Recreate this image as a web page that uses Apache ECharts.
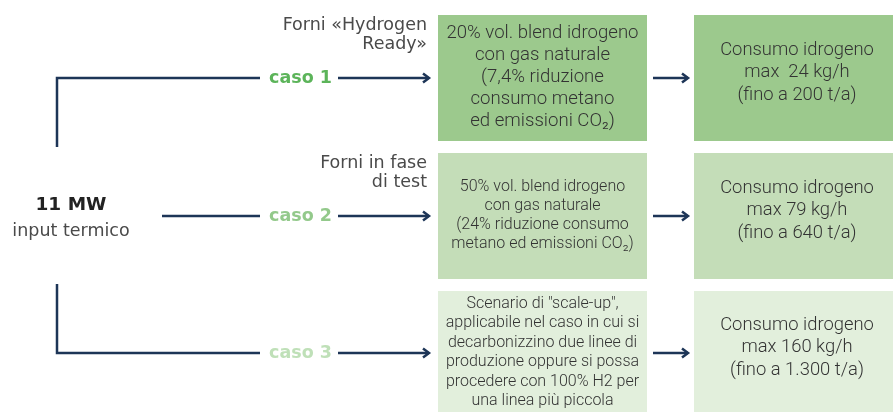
<!DOCTYPE html>
<html>
<head>
<meta charset="utf-8">
<script src="https://cdn.jsdelivr.net/npm/echarts@6/dist/echarts.min.js"></script>
<style>
  html, body { margin: 0; padding: 0; background: #fff; }
  #main { width: 893px; height: 412px; }
</style>
</head>
<body>
<div id="main"></div>
<script>
// testi del diagramma
var casi = ['caso 1', 'caso 2', 'caso 3'];
var forni = ['Forni «Hydrogen\nReady»', 'Forni in fase\ndi test', ''];
var scenari = [
  '20% vol. blend idrogeno\ncon gas naturale\n(7,4% riduzione\nconsumo metano\ned emissioni CO₂)',
  '50% vol. blend idrogeno\ncon gas naturale\n(24% riduzione consumo\nmetano ed emissioni CO₂)',
  'Scenario di "scale-up",\napplicabile nel caso in cui si\ndecarbonizzino due linee di\nproduzione oppure si possa\nprocedere con 100% H2 per\nuna linea più piccola'
];
var consumi = [
  'Consumo idrogeno\nmax  24 kg/h\n(fino a 200 t/a)',
  'Consumo idrogeno\nmax 79 kg/h\n(fino a 640 t/a)',
  'Consumo idrogeno\nmax 160 kg/h\n(fino a 1.300 t/a)'
];
var potenza = '11 MW';
var potenzaSub = 'input termico';

// stile
var boxColors = ['#9cc98d', '#c4ddb8', '#e2efdc'];
var casoColors = ['#5cb45a', '#93c98b', '#bfe0b8'];
var lineColor = '#1d3557';
var rows = [
  { y: 78, top: 15, h: 126, midLh: 22, midSize: 18.6 },
  { y: 216, top: 153, h: 126, midLh: 19, midSize: 16 },
  { y: 353, top: 291, h: 121, midLh: 19.5, midSize: 16 }
];

var chart = echarts.init(document.getElementById('main'));
var g = [];

function line(points) {
  g.push({ type: 'polyline', shape: { points: points },
    style: { stroke: lineColor, lineWidth: 2.5, fill: null }, z: 5 });
}
function arrow(x1, x2, y) {
  line([[x1, y], [x2, y]]);
  g.push({ type: 'polyline', shape: { points: [[x2 - 6, y - 4.5], [x2, y], [x2 - 6, y + 4.5]] },
    style: { stroke: lineColor, lineWidth: 2.5, fill: null }, z: 5 });
}

// connettori a sinistra
line([[57, 147], [57, rows[0].y], [260, rows[0].y]]);
line([[162, rows[1].y], [260, rows[1].y]]);
line([[57, 284], [57, rows[2].y], [260, rows[2].y]]);

rows.forEach(function (r, i) {
  arrow(338, 429, r.y);
  arrow(653, 688, r.y);
  g.push({ type: 'text', style: {
    text: casi[i], x: 300.5, y: r.y, align: 'center', verticalAlign: 'middle',
    fontFamily: 'DejaVu Sans', fontSize: 17.5, fontWeight: 'bold', fill: casoColors[i]
  } });
  if (forni[i]) {
    g.push({ type: 'text', style: {
      text: forni[i], x: 427, y: r.y - 43, align: 'right', verticalAlign: 'middle',
      fontFamily: 'DejaVu Sans', fontSize: 17.5, lineHeight: 19.5, fill: '#4a4a4a'
    } });
  }
  g.push({ type: 'rect', shape: { x: 438, y: r.top, width: 209, height: r.h },
    style: { fill: boxColors[i] } });
  g.push({ type: 'rect', shape: { x: 694, y: r.top, width: 199, height: r.h },
    style: { fill: boxColors[i] } });
  g.push({ type: 'text', style: {
    text: scenari[i], x: 542.5, y: r.y - 0.5, align: 'center', verticalAlign: 'middle',
    fontFamily: 'Roboto', fontWeight: 300, fontSize: r.midSize, lineHeight: r.midLh, fill: '#333'
  }, z: 3 });
  g.push({ type: 'text', style: {
    text: consumi[i], x: 797, y: r.y - 5.5, align: 'center', verticalAlign: 'middle',
    fontFamily: 'Roboto', fontWeight: 300, fontSize: 18.4, lineHeight: 22.5, fill: '#333'
  }, z: 3 });
});

g.push({ type: 'text', style: {
  text: potenza, x: 71, y: 205, align: 'center', verticalAlign: 'middle',
  fontFamily: 'DejaVu Sans', fontWeight: 'bold', fontSize: 18.5, fill: '#222'
} });
g.push({ type: 'text', style: {
  text: potenzaSub, x: 71, y: 231, align: 'center', verticalAlign: 'middle',
  fontFamily: 'DejaVu Sans', fontSize: 17.5, fill: '#4a4a4a'
} });

chart.setOption({
  backgroundColor: '#ffffff',
  animation: false,
  graphic: { elements: g }
});
</script>
</body>
</html>
